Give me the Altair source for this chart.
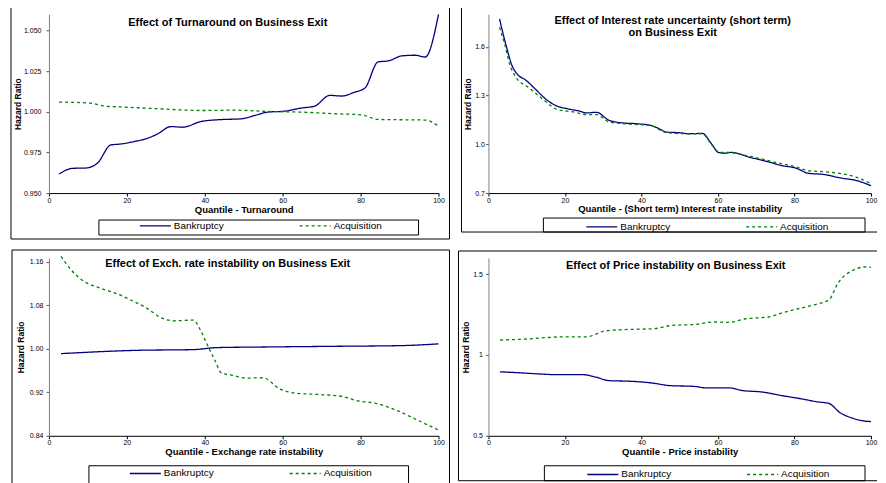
import altair as alt
import pandas as pd

FONT = "Liberation Sans"
SERIES = ["Bankruptcy", "Acquisition"]
COLORS = ["#000080", "#008000"]
DASHES = [[1, 0], [3, 3]]
X_TICKS = [0, 20, 40, 60, 80, 100]

# Panel 1: Turnaround
p1_bank_x = [2.6, 6, 9.4, 12.4, 15.9, 18.5, 21.9, 25.3, 27.9, 31.3, 34.3, 39, 43.3, 49.4, 52.8,
             56.2, 60.5, 64.8, 68.2, 72.1, 75.1, 78.5, 81.1, 84.5, 87.1, 90.6, 94, 96.6, 100]
p1_bank_y = [0.9617, 0.9652, 0.9654, 0.9683, 0.9796, 0.9802, 0.9817, 0.9837, 0.9864, 0.9909,
             0.9905, 0.9940, 0.9951, 0.9957, 0.9977, 0.9998, 1.0004, 1.0023, 1.0035, 1.0101,
             1.0097, 1.0121, 1.0146, 1.0307, 1.0313, 1.0344, 1.0348, 1.0337, 1.0599]
p1_acq_x = [2.6, 10.7, 14.2, 19.3, 27.9, 39, 47.6, 56.2, 64.8, 73.4, 80.3, 84.5, 90.6, 96.6, 100]
p1_acq_y = [1.0060, 1.0053, 1.0035, 1.0029, 1.0019, 1.0008, 1.0010, 1.0002, 0.9998, 0.9988,
            0.9981, 0.9953, 0.9951, 0.9949, 0.9912]

# Panel 2: Interest rate uncertainty
p2_bank_x = [2.9, 4.6, 6.3, 7.6, 9.7, 12.2, 14.7, 18.1, 20.6, 24, 25.6, 28.2, 31.5, 34.9, 39.1,
             42.4, 44.1, 46.6, 50, 52.5, 55.9, 58.4, 60.1, 61.8, 63.4, 68.5, 72.7, 76.9, 80.3,
             83.6, 87.8, 92, 96.2, 100]
p2_bank_y = [1.771, 1.609, 1.477, 1.430, 1.396, 1.341, 1.284, 1.233, 1.219, 1.203, 1.193, 1.197,
             1.148, 1.132, 1.126, 1.116, 1.102, 1.075, 1.071, 1.065, 1.067, 1.000, 0.950, 0.945,
             0.950, 0.919, 0.895, 0.868, 0.854, 0.822, 0.814, 0.793, 0.777, 0.745]
p2_acq_x = [2.9, 4.2, 5.5, 7.1, 10.5, 13.9, 18.1, 22.3, 25.6, 28.2, 31.5, 35.7, 42.4, 46.6, 52.5,
            55.9, 58.4, 60.5, 62.6, 68.5, 76.9, 80.3, 83.6, 89.5, 96.2, 100]
p2_acq_y = [1.720, 1.619, 1.497, 1.416, 1.349, 1.284, 1.213, 1.199, 1.183, 1.183, 1.138, 1.126,
            1.116, 1.071, 1.065, 1.065, 0.996, 0.950, 0.950, 0.925, 0.879, 0.862, 0.838, 0.828,
            0.797, 0.758]

# Panel 3: Exchange rate instability
p3_bank_x = [3.1, 22.7, 37.1, 43.1, 56.7, 73.7, 90.7, 100]
p3_bank_y = [0.9911, 0.9972, 0.9985, 1.0022, 1.0034, 1.0046, 1.0059, 1.0090]
p3_acq_x = [3.1, 5.7, 8.2, 13.3, 17.6, 21, 25.2, 28.6, 32, 37.1, 38.8, 40.5, 42.6, 44.3, 47.3,
            50.7, 55, 59.2, 63.5, 69.4, 75.4, 78.8, 83.9, 89, 94.9, 100]
p3_acq_y = [1.1699, 1.1452, 1.1279, 1.1113, 1.1008, 1.0897, 1.0743, 1.0577, 1.0515, 1.0527,
            1.0355, 1.0096, 0.9787, 0.9553, 0.9510, 0.9461, 0.9467, 0.9263, 0.9183, 0.9159,
            0.9122, 0.9048, 0.8998, 0.8875, 0.8678, 0.8505]

# Panel 4: Price instability
p4_bank_x = [3, 9.4, 13.6, 17.9, 24.7, 28.1, 31.5, 37.4, 42.6, 47.7, 53.6, 57, 63, 66.4, 71.5,
             76.6, 81.7, 86, 89, 91.9, 95.3, 98.7, 100]
p4_bank_y = [0.896, 0.888, 0.882, 0.878, 0.878, 0.863, 0.841, 0.837, 0.827, 0.810, 0.806, 0.796,
             0.796, 0.780, 0.771, 0.749, 0.729, 0.710, 0.700, 0.643, 0.608, 0.590, 0.588]
p4_acq_x = [3, 9.4, 19.6, 25.5, 30.6, 35.7, 43.4, 47.7, 54.5, 58.7, 63, 67.2, 73.2, 77.4, 81.7,
            86, 89, 91.5, 95.3, 98.7, 100]
p4_acq_y = [1.092, 1.098, 1.112, 1.112, 1.149, 1.157, 1.163, 1.182, 1.190, 1.204, 1.202, 1.224,
            1.235, 1.265, 1.290, 1.316, 1.341, 1.449, 1.524, 1.545, 1.542]

one = pd.DataFrame({"k": [0]})


def make_df(bx, by, ax, ay):
    return pd.DataFrame({
        "q": bx + ax,
        "hr": by + ay,
        "series": [SERIES[0]] * len(bx) + [SERIES[1]] * len(ax),
    })


def rule(x1, x2, y1, y2):
    return alt.Chart(one).mark_rule(color="black", strokeWidth=1).encode(
        x=alt.value(x1), x2=alt.value(x2), y=alt.value(y1), y2=alt.value(y2))


def panel(df, W, H, title, tdx, tdy, xtitle, xtpad, ydomain, yticks, yfmt, ylpad, ytpad,
          border, right_edge, lbox, legxy):
    bl, br, bt, bb = border
    frame = [rule(bl, W + br, bt, bt), rule(bl, bl, bt, H + bb), rule(bl, W + br, H + bb, H + bb)]
    if right_edge:
        frame.append(rule(W + br, W + br, bt, H + bb))
    lx1, lx2, ly1, ly2 = lbox
    legbox = alt.Chart(one).mark_rect(fillOpacity=0, stroke="black", strokeWidth=1).encode(
        x=alt.value(lx1), x2=alt.value(lx2), y=alt.value(H + ly1), y2=alt.value(H + ly2))
    leg = alt.Legend(orient="none", legendX=legxy[0], legendY=H + legxy[1],
                     direction="horizontal", title=None, symbolType="stroke",
                     symbolSize=961, symbolStrokeWidth=1.3, labelFont=FONT,
                     labelFontSize=10, labelColor="black", columnPadding=72,
                     labelOffset=2, padding=0)
    lines = alt.Chart(df).mark_line(interpolate="monotone", strokeWidth=1.3).encode(
        x=alt.X("q:Q", scale=alt.Scale(domain=[0, 100], nice=False, zero=False),
                axis=alt.Axis(values=X_TICKS, title=xtitle, grid=False, domainColor="black",
                              tickColor="black", tickSize=3, labelFont=FONT, labelFontSize=7,
                              labelColor="black", labelPadding=0, labelFlush=False,
                              labelOverlap=False, titleFont=FONT, titleFontSize=9.5,
                              titleFontWeight="bold", titleColor="black", titlePadding=xtpad)),
        y=alt.Y("hr:Q", scale=alt.Scale(domain=ydomain, nice=False, zero=False),
                axis=alt.Axis(values=yticks, format=yfmt, title="Hazard Ratio", grid=False,
                              domainColor="#808080", tickColor="#555555", tickSize=3,
                              labelFont=FONT, labelFontSize=7, labelColor="black",
                              labelPadding=ylpad, labelOverlap=False, labelFlush=False,
                              titleFont=FONT, titleFontSize=8.5, titleFontWeight="bold",
                              titleColor="black", titlePadding=ytpad)),
        color=alt.Color("series:N", scale=alt.Scale(domain=SERIES, range=COLORS), legend=leg),
        strokeDash=alt.StrokeDash("series:N", scale=alt.Scale(domain=SERIES, range=DASHES),
                                  legend=leg),
    )
    return alt.layer(*frame, legbox, lines).properties(
        width=W, height=H,
        title=alt.TitleParams(text=title, font=FONT, fontSize=11, fontWeight="bold",
                              color="black", anchor="middle", frame="group", offset=0,
                              dx=tdx, dy=tdy, lineHeight=12))


W_LEFT, W_RIGHT = 390, 383

p1 = panel(make_df(p1_bank_x, p1_bank_y, p1_acq_x, p1_acq_y), W_LEFT, 179,
           "Effect of Turnaround on Business Exit", -16, 21,
           "Quantile - Turnaround", 1, [0.95, 1.06], [0.95, 0.975, 1.0, 1.025, 1.05], ".3f", 5, 1,
           (-38, 11, -7, 46), True, (50, 370, 27, 42), (90, 16))
p2 = panel(make_df(p2_bank_x, p2_bank_y, p2_acq_x, p2_acq_y), W_RIGHT, 179,
           ["Effect of Interest rate uncertainty (short term)", "on Business Exit"], -7, 31,
           "Quantile - (Short term) Interest rate instability", 0, [0.7, 1.8],
           [0.7, 1.0, 1.3, 1.6], ".1f", 1, 2,
           (-27, 6, -7, 39), False, (55, 377, 25, 39), (97, 17))
p3 = panel(make_df(p3_bank_x, p3_bank_y, p3_acq_x, p3_acq_y), W_LEFT, 178,
           "Effect of Exch. rate instability on Business Exit", -16, 20,
           "Quantile - Exchange rate instability", 1, [0.84, 1.167],
           [0.84, 0.92, 1.0, 1.08, 1.16], ".2f", 3, 4,
           (-37, 11, -8, 52), True, (40, 360, 30, 52), (80, 21))
p4 = panel(make_df(p4_bank_x, p4_bank_y, p4_acq_x, p4_acq_y), W_RIGHT, 178,
           "Effect of Price instability on Business Exit", -4, 21,
           "Quantile - Price instability", 1, [0.5, 1.6], [0.5, 1.0, 1.5], "~g", 3, 2,
           (-30, 6, -7, 45), False, (56, 377, 30, 45), (98, 22))

chart = alt.concat(p1, p2, p3, p4, columns=2, spacing={"row": 65, "column": 50},
                   bounds="flush", align="each").resolve_scale(
    x="independent", y="independent", color="independent", strokeDash="independent"
).resolve_legend(color="independent", strokeDash="independent").configure_view(
    strokeWidth=0
).properties(padding={"left": 2, "top": -2, "right": 0, "bottom": 0}, background="white")

chart.save("out.html", embed_options={"renderer": "svg", "actions": False})
